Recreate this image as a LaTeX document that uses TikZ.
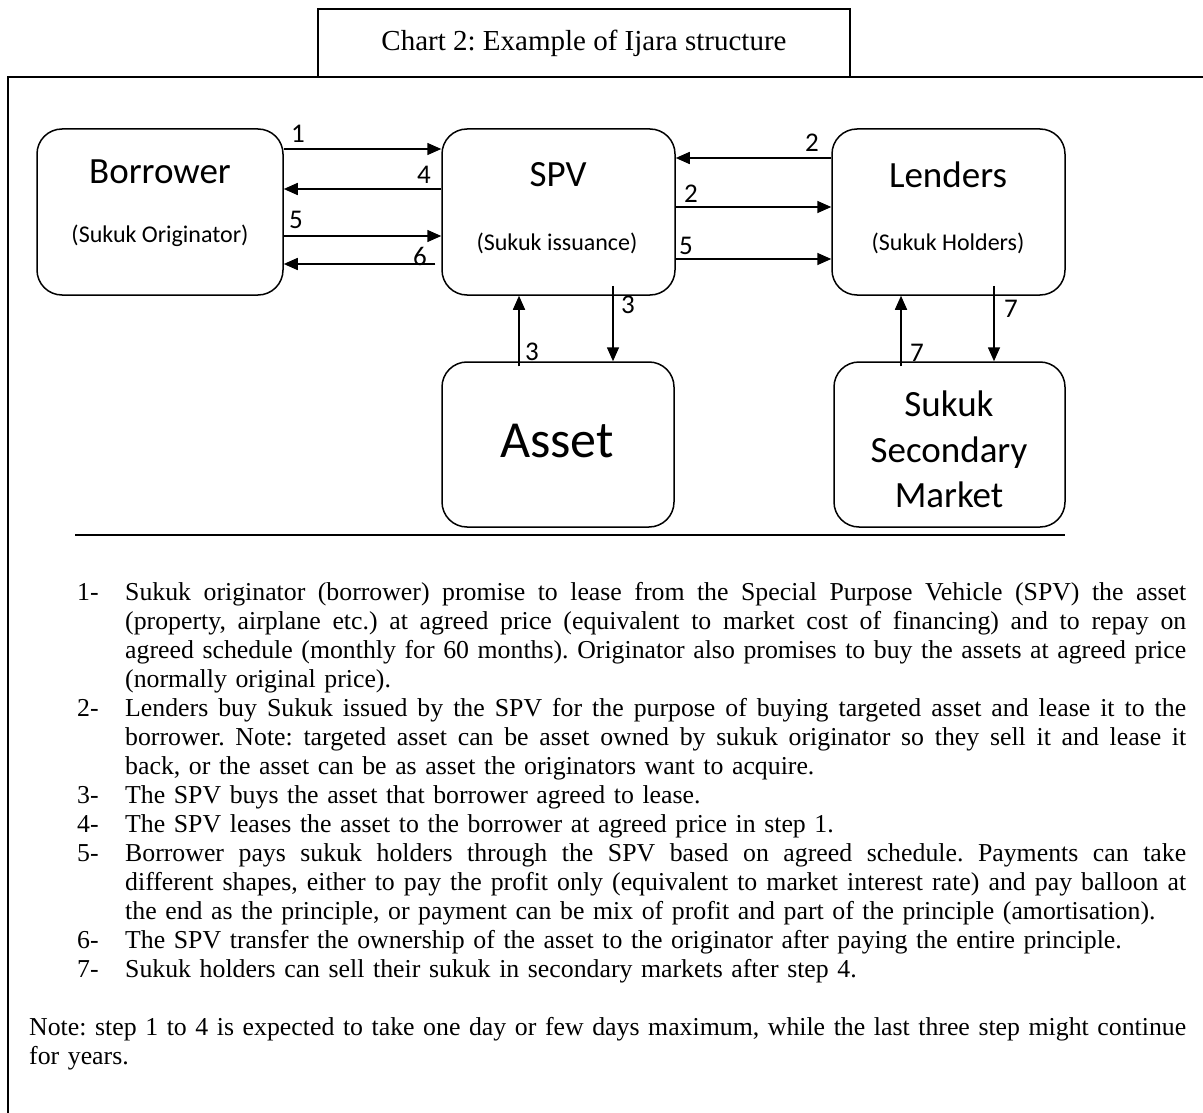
\documentclass[tikz,border=0pt]{standalone}
\usepackage{fontspec}
\setmainfont{Liberation Serif}
\newfontfamily\diafont{Carlito}
\usetikzlibrary{arrows.meta,calc}

% a fully justified line of the step list: the spaces take up all the slack
\newcommand\jline[2][1061pt]{\leavevmode\hbox to #1{\spaceskip=0.25em plus 1fil minus 0.1em\relax #2}}
\newcommand\stepno[1]{\leavevmode\hspace*{48pt}\makebox[48pt][l]{#1}}
\newcommand\stepcont{\leavevmode\hspace*{96pt}}

\begin{document}
\frenchspacing
\begin{tikzpicture}[x=1pt,y=-1pt,
  frame/.style={line width=2pt},
  box/.style={draw, line width=1.5pt, rounded corners=25pt, inner sep=0pt},
  flow/.style={line width=1.6pt, -{Triangle[length=14pt,width=12pt]}},
  num/.style={font=\diafont\fontsize{27}{27}\selectfont, anchor=base west, inner sep=0pt},
  head/.style={font=\diafont\fontsize{37}{37}\selectfont, anchor=base, inner sep=0pt},
  sub/.style={font=\diafont\fontsize{24}{24}\selectfont, anchor=base, inner sep=0pt}]

\useasboundingbox (0,0) rectangle (1203,1113);

% outer frame and title tab
\draw[frame] (8,1113) -- (8,77) -- (1203,77);
\node[draw, line width=2pt, minimum width=532pt, minimum height=68pt, inner sep=0pt,
      font=\fontsize{29}{29}\selectfont] (title) at (584,43) {Chart 2: Example of Ijara structure};

% parties
\node[box, minimum width=246pt, minimum height=166pt] (bor) at (160,212) {};
\node[box, minimum width=233pt, minimum height=166pt] (spv) at (558.5,212) {};
\node[box, minimum width=233pt, minimum height=166pt] (len) at (948.5,212) {};
\node[box, minimum width=232pt, minimum height=165pt] (asset) at (558,444.5) {};
\node[box, minimum width=231pt, minimum height=165pt] (mkt) at (949.5,444.5) {};

\node[head] (borT) at (160,184) {Borrower};
\node[sub]  (borS) at (160,242) {(Sukuk Originator)};
\node[head] (spvT) at (558,187) {SPV};
\node[sub]  (spvS) at (557,250) {(Sukuk issuance)};
\node[head] (lenT) at (948,188) {Lenders};
\node[sub]  (lenS) at (948,250) {(Sukuk Holders)};
\node[font=\diafont\fontsize{52}{52}\selectfont, anchor=base, inner sep=0pt] (assetT) at (557,457) {Asset};
\node[head] (mkt1) at (949,416) {Sukuk};
\node[head] (mkt2) at (949,462) {Secondary};
\node[head] (mkt3) at (949,507) {Market};

% Borrower <-> SPV
\draw[flow] (bor.east |- 0,149) -- (spv.west |- 0,149);
\draw[flow] (spv.west |- 0,189) -- (bor.east |- 0,189);
\draw[flow] (bor.east |- 0,236) -- (spv.west |- 0,236);
\draw[flow] ($(spv.west |- 0,264)+(-6,0)$) -- (bor.east |- 0,264);
\node[num] (n1) at (291,143) {1};
\node[num] (n4) at (417,184) {4};
\node[num] (n5) at (289,229) {5};
\node[num] (n6) at (413,265) {6};

% SPV <-> Lenders
\draw[flow] (len.west |- 0,158) -- (spv.east |- 0,158);
\draw[flow] (spv.east |- 0,207) -- (len.west |- 0,207);
\draw[flow] (spv.east |- 0,259) -- (len.west |- 0,259);
\node[num] (n2a) at (805,152) {2};
\node[num] (n2b) at (684,203) {2};
\node[num] (n5b) at (679,254) {5};

% SPV <-> Asset
\draw[flow] ($(asset.north -| 519,0)+(0,5)$) -- (spv.south -| 519,0);
\draw[flow] ($(spv.south -| 613,0)+(0,-10)$) -- (asset.north -| 613,0);
\node[num] (n3a) at (621,313) {3};
\node[num] (n3b) at (525,360) {3};

% Lenders <-> secondary market
\draw[flow] ($(mkt.north -| 901,0)+(0,5)$) -- (len.south -| 901,0);
\draw[flow] ($(len.south -| 994,0)+(0,-10)$) -- (mkt.north -| 994,0);
\node[num] (n7a) at (1004,317) {7};
\node[num] (n7b) at (910,361) {7};

% rule under the chart
\draw[line width=2pt] (75,535) -- (1065,535);

% explanation of the steps
\node[anchor=base west, inner sep=0pt, text width=1157pt,
      font=\fontsize{25.8}{29}\selectfont] (steps) at (29,600) {%
\setlength\parindent{0pt}\frenchspacing
\stepno{1-}\jline{Sukuk originator (borrower) promise to lease from the Special Purpose Vehicle (SPV) the asset}\par
\stepcont\jline{(property, airplane etc.) at agreed price (equivalent to market cost of financing) and to repay on}\par
\stepcont\jline{agreed schedule (monthly for 60 months). Originator also promises to buy the assets at agreed price}\par
\stepcont(normally original price).\par
\stepno{2-}\jline{Lenders buy Sukuk issued by the SPV for the purpose of buying targeted asset and lease it to the}\par
\stepcont\jline{borrower. Note: targeted asset can be asset owned by sukuk originator so they sell it and lease it}\par
\stepcont back, or the asset can be as asset the originators want to acquire.\par
\stepno{3-}The SPV buys the asset that borrower agreed to lease.\par
\stepno{4-}The SPV leases the asset to the borrower at agreed price in step 1.\par
\stepno{5-}\jline{Borrower pays sukuk holders through the SPV based on agreed schedule. Payments can take}\par
\stepcont\jline{different shapes, either to pay the profit only (equivalent to market interest rate) and pay balloon at}\par
\stepcont the end as the principle, or payment can be mix of profit and part of the principle (amortisation).\par
\stepno{6-}The SPV transfer the ownership of the asset to the originator after paying the entire principle.\par
\stepno{7-}Sukuk holders can sell their sukuk in secondary markets after step 4.\par
\mbox{}\par
\jline[1157pt]{Note: step 1 to 4 is expected to take one day or few days maximum, while the last three step might continue}\par
for years.\par};
\end{tikzpicture}
\end{document}
